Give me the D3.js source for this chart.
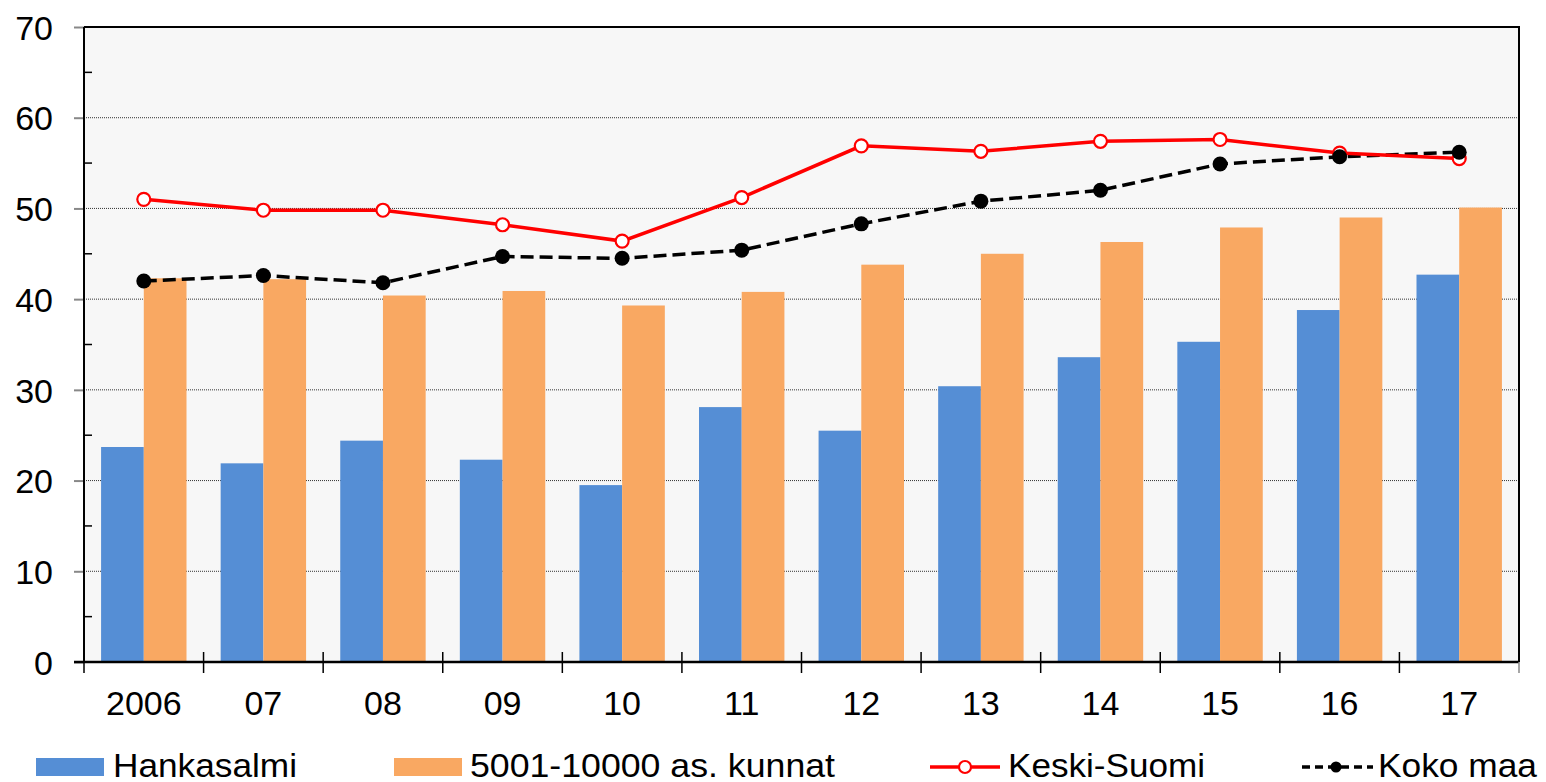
<!DOCTYPE html>
<html>
<head>
<meta charset="utf-8">
<script src="https://cdn.jsdelivr.net/npm/d3@7"></script>
<style>
  body { margin: 0; background: #fff; }
  text { font-family: "Liberation Sans", Arial, sans-serif; }
</style>
</head>
<body>
<div id="chart"></div>
<script>
const years = ["2006", "07", "08", "09", "10", "11", "12", "13", "14", "15", "16", "17"];
const hankasalmi = [23.7, 21.9, 24.4, 22.3, 19.5, 28.1, 25.5, 30.4, 33.6, 35.3, 38.8, 42.7];
const kunnat = [42.3, 42.2, 40.4, 40.9, 39.3, 40.8, 43.8, 45.0, 46.3, 47.9, 49.0, 50.1];
const keskiSuomi = [51.0, 49.8, 49.8, 48.2, 46.4, 51.2, 56.9, 56.3, 57.4, 57.6, 56.1, 55.5];
const kokoMaa = [42.0, 42.6, 41.8, 44.7, 44.5, 45.4, 48.3, 50.8, 52.0, 54.9, 55.7, 56.2];
const yTicks = [0, 10, 20, 30, 40, 50, 60, 70];

const w = 1546, h = 782;
const pLeft = 84, pRight = 1519, pTop = 27, pBottom = 662;
const fs = 34;

const svg = d3.select("#chart").append("svg")
  .attr("width", w).attr("height", h);

const x = d3.scaleBand().domain(years).range([pLeft, pRight]).padding(0);
const xs = d3.scaleBand().domain(["h", "k"]).range([0, x.bandwidth()])
  .paddingInner(0).paddingOuter(0.4);
const y = d3.scaleLinear().domain([0, 70]).range([pBottom, pTop]);

// plot background
svg.append("rect")
  .attr("x", pLeft).attr("y", pTop)
  .attr("width", pRight - pLeft).attr("height", pBottom - pTop)
  .attr("fill", "#f7f7f7");

// gridlines
svg.append("g").selectAll("line")
  .data(yTicks.filter(d => d > 0 && d < 70))
  .enter().append("line")
  .attr("x1", pLeft).attr("x2", pRight)
  .attr("y1", d => y(d)).attr("y2", d => y(d))
  .attr("stroke", "#333").attr("stroke-width", 1)
  .attr("stroke-dasharray", "1,1");

// bars
const grp = svg.append("g").selectAll("g")
  .data(years).enter().append("g")
  .attr("transform", d => `translate(${x(d)},0)`);

grp.append("rect")
  .attr("x", xs("h")).attr("width", xs.bandwidth())
  .attr("y", (d, i) => y(hankasalmi[i]))
  .attr("height", (d, i) => y(0) - y(hankasalmi[i]))
  .attr("fill", "#558ed5");

grp.append("rect")
  .attr("x", xs("k")).attr("width", xs.bandwidth())
  .attr("y", (d, i) => y(kunnat[i]))
  .attr("height", (d, i) => y(0) - y(kunnat[i]))
  .attr("fill", "#f9a862");

// frame
svg.append("path")
  .attr("d", `M${pLeft},${pTop}H${pRight}V${pBottom}`)
  .attr("fill", "none").attr("stroke", "#000").attr("stroke-width", 2);

// y axis
const yAxis = d3.axisLeft(y).tickValues(yTicks).tickSize(10).tickFormat(d3.format("d"));
const ya = svg.append("g").attr("transform", `translate(${pLeft},0)`).call(yAxis);
ya.select(".domain").remove();
ya.selectAll(".tick line").attr("stroke", "#888").attr("stroke-width", 2);
ya.selectAll(".tick text").attr("font-size", fs).attr("x", -31).attr("dy", "0.36em").attr("fill", "#000");
svg.append("line").attr("x1", pLeft).attr("x2", pLeft).attr("y1", pTop).attr("y2", pBottom)
  .attr("stroke", "#000").attr("stroke-width", 2);
// minor ticks
svg.append("g").selectAll("line")
  .data(d3.range(5, 70, 10)).enter().append("line")
  .attr("x1", pLeft).attr("x2", pLeft + 8)
  .attr("y1", d => y(d)).attr("y2", d => y(d))
  .attr("stroke", "#000").attr("stroke-width", 1.5);

// x axis
svg.append("line").attr("x1", pLeft - 10).attr("x2", pRight).attr("y1", pBottom).attr("y2", pBottom)
  .attr("stroke", "#000").attr("stroke-width", 2.5);
const bounds = years.map(d => x(d)).concat([pRight]);
svg.append("g").selectAll("line")
  .data(bounds).enter().append("line")
  .attr("x1", d => d).attr("x2", d => d)
  .attr("y1", (d, i) => (i === 0 || i === bounds.length - 1) ? pBottom : pBottom - 10)
  .attr("y2", pBottom + 11)
  .attr("stroke", (d, i) => i === bounds.length - 1 ? "#888" : "#000").attr("stroke-width", 1.5);
svg.append("g").selectAll("text")
  .data(years).enter().append("text")
  .attr("x", d => x(d) + x.bandwidth() / 2)
  .attr("y", 715)
  .attr("text-anchor", "middle")
  .attr("font-size", fs)
  .text(d => d);

// lines
const cx = (d, i) => x(years[i]) + x.bandwidth() / 2;
const line = d3.line().x(cx).y(d => y(d));

svg.append("path").datum(kokoMaa)
  .attr("d", line).attr("fill", "none")
  .attr("stroke", "#000").attr("stroke-width", 3.5)
  .attr("stroke-dasharray", "13,6");
svg.append("path").datum(keskiSuomi)
  .attr("d", line).attr("fill", "none")
  .attr("stroke", "#ff0000").attr("stroke-width", 3.5);

svg.append("g").selectAll("circle")
  .data(keskiSuomi).enter().append("circle")
  .attr("cx", cx).attr("cy", d => y(d)).attr("r", 6.5)
  .attr("fill", "#fff").attr("stroke", "#ff0000").attr("stroke-width", 2.2);
svg.append("g").selectAll("circle")
  .data(kokoMaa).enter().append("circle")
  .attr("cx", cx).attr("cy", d => y(d)).attr("r", 7.5)
  .attr("fill", "#000");

// legend
const ly = 767;
const lg = svg.append("g");
const legendText = (tx, len, label) => lg.append("text")
  .attr("x", tx).attr("y", 777).attr("font-size", fs)
  .attr("textLength", len).attr("lengthAdjust", "spacingAndGlyphs")
  .text(label);

lg.append("rect").attr("x", 36).attr("y", 758).attr("width", 68).attr("height", 18).attr("fill", "#558ed5");
legendText(113, 184, "Hankasalmi");
lg.append("rect").attr("x", 394).attr("y", 758).attr("width", 68).attr("height", 18).attr("fill", "#f9a862");
legendText(470, 365, "5001-10000 as. kunnat");
lg.append("line").attr("x1", 930).attr("x2", 1000).attr("y1", ly).attr("y2", ly)
  .attr("stroke", "#ff0000").attr("stroke-width", 3.5);
lg.append("circle").attr("cx", 965).attr("cy", ly).attr("r", 6)
  .attr("fill", "#fff").attr("stroke", "#ff0000").attr("stroke-width", 2.2);
legendText(1008, 197, "Keski-Suomi");
lg.append("line").attr("x1", 1302).attr("x2", 1373).attr("y1", ly).attr("y2", ly)
  .attr("stroke", "#000").attr("stroke-width", 3.5).attr("stroke-dasharray", "8,5");
lg.append("circle").attr("cx", 1336).attr("cy", ly).attr("r", 5.5).attr("fill", "#000");
legendText(1378, 159, "Koko maa");
</script>
</body>
</html>
